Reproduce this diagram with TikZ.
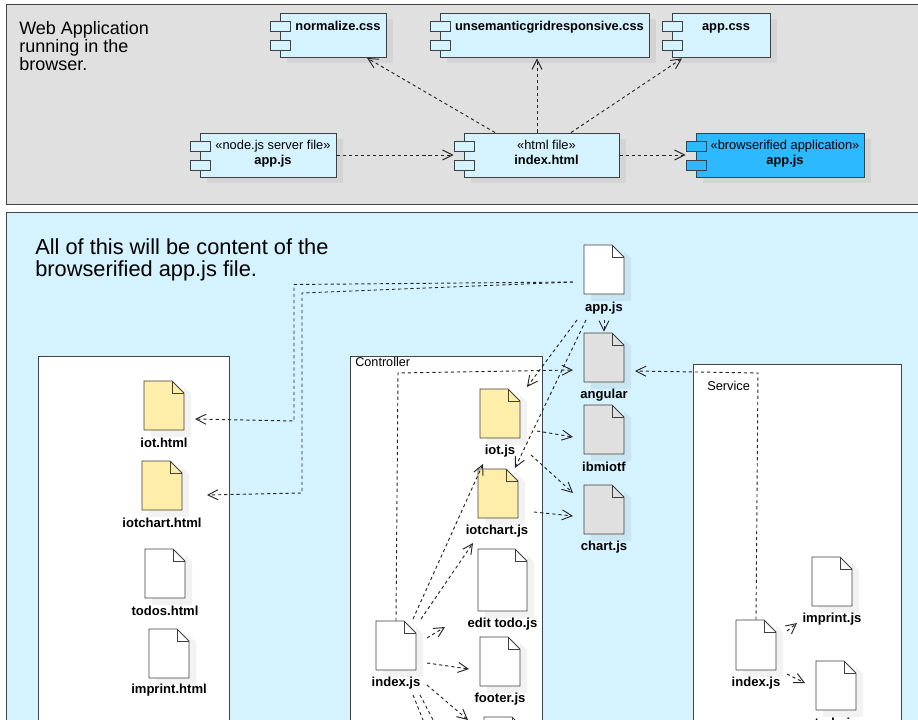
\documentclass[tikz,border=0pt]{standalone}
\usepackage{fontspec}
\setmainfont{Liberation Sans}
\usepackage{xcolor}
\usetikzlibrary{arrows.meta}
\definecolor{paleblue}{HTML}{D5F2FF}
\definecolor{brightblue}{HTML}{2DB9FF}
\definecolor{panegray}{HTML}{E0E0E0}
\definecolor{paleyellow}{HTML}{FFEEAA}
\definecolor{edgegray}{HTML}{444444}
\tikzset{
  frame/.style={draw=edgegray, line width=0.75pt},
  dropshade/.style={fill=black, fill opacity=0.05, draw=none},
  body/.style={draw=black!75, line width=0.7pt},
  deptail/.style={dash pattern=on 2.4pt off 2.2pt, draw=black!85, line width=0.7pt},
  dep/.style={deptail, -{Straight Barb[length=7.5pt,width=7.5pt]}},
  filelabel/.style={font=\bfseries\fontsize{9.8}{12}\selectfont, inner sep=0pt},
  boxtext/.style={font=\fontsize{9.65}{11.2}\selectfont, align=center, inner sep=0pt},
  slot/.style={minimum width=0pt, minimum height=0pt, inner sep=0pt, rectangle}
}
% component box: name, left, right, top, fill, text
\newcommand{\compbox}[6]{
  \fill[dropshade] (#2+7,#4+6) rectangle (#3+7,#4+50);
  \node[slot, body, fill=#5, minimum width={(#3-(#2))*0.75pt}, minimum height=33pt]
    (#1) at ({(#2+#3)/2},#4+22) {};
  \draw[body, fill=#5] (#2-10,#4+8) rectangle (#2+10,#4+18);
  \draw[body, fill=#5] (#2-10,#4+27) rectangle (#2+10,#4+37);
  \node[boxtext, anchor=north] (#1text) at ({(#2+10+#3)/2},#4+6.5) {#6};
}
% file icon: name, left, top, width, height, fill, label x, label y, label
\newcommand{\filenode}[9]{
  \fill[dropshade] (#2+7,#3+13) -- (#2+#4,#3+13) -- (#2+#4,#3+6) -- (#2+#4+7,#3+13)
    -- (#2+#4+7,#3+#5+7) -- (#2+7,#3+#5+7) -- cycle;
  \node[slot, minimum width={#4*0.75pt}, minimum height={#5*0.75pt}]
    (#1) at (#2+#4/2,#3+#5/2) {};
  \draw[body, fill=#6, line join=miter] (#2,#3) -- (#2+#4-12,#3) -- (#2+#4,#3+12)
    -- (#2+#4,#3+#5) -- (#2,#3+#5) -- cycle;
  \draw[body] (#2+#4-12,#3) -- (#2+#4-12,#3+12) -- (#2+#4,#3+12);
  \node[filelabel] (#1label) at (#7,#8+1.5) {#9};
}
\begin{document}
\begin{tikzpicture}[x=0.75pt,y=-0.75pt]
\path[use as bounding box, clip] (0,0) rectangle (918,720);
\fill[white] (0,0) rectangle (918,720);

% panes
\draw[frame, fill=panegray] (6,5) rectangle (930,205);
\draw[frame, fill=paleblue] (6,212.5) rectangle (930,740);
\draw[frame, fill=white] (38,357) rectangle (229,740);
\draw[frame, fill=white] (350,357) rectangle (542,740);
\draw[frame, fill=white] (693.5,364.5) rectangle (901,740);

\node[font=\fontsize{13.5}{13.5}\selectfont, align=left, anchor=north west, inner sep=0pt] (webnote)
  at (19,21) {Web Application\\running in the\\browser.};
\node[font=\fontsize{16.35}{16.5}\selectfont, align=left, anchor=north west, inner sep=0pt] (bundlenote)
  at (35,238) {All of this will be content of the\\browserified app.js file.};
\node[font=\fontsize{9.5}{10}\selectfont, anchor=west, inner sep=0pt] (ctrltitle) at (355,362) {Controller};
\node[font=\fontsize{9.6}{10}\selectfont, anchor=west, inner sep=0pt] (svctitle) at (707,386) {Service};

% browser
\compbox{normalize}{280}{386}{13}{paleblue}{\rule{0pt}{8.2pt}\textbf{normalize.css}}
\compbox{unsemantic}{440}{649}{13}{paleblue}{\rule{0pt}{8.2pt}\textbf{unsemanticgridresponsive.css}}
\compbox{appcss}{672}{770}{13}{paleblue}{\rule{0pt}{8.2pt}\textbf{app.css}}
\compbox{server}{200}{336}{133}{paleblue}{«node.js server file»\\\textbf{app.js}}
\compbox{indexhtml}{464}{619}{133}{paleblue}{«html file»\\\textbf{index.html}}
\compbox{bundle}{696}{864}{133}{brightblue}{«browserified application»\\\textbf{app.js}}

% files
\filenode{appjs}{584}{245}{40}{49}{white}{604}{307}{app.js}
\filenode{angular}{584}{333}{40}{49}{panegray}{604}{394}{angular}
\filenode{ibmiotf}{584}{405}{40}{49}{panegray}{604}{465.5}{ibmiotf}
\filenode{chartjs}{584}{485}{40}{49}{panegray}{604}{546}{chart.js}
\filenode{iotjs}{480}{389}{40}{49}{paleyellow}{500}{450}{iot.js}
\filenode{iotchartjs}{478}{469}{40}{49}{paleyellow}{497}{530}{iotchart.js}
\filenode{edittodo}{478}{549}{49}{62}{white}{502.5}{623}{edit todo.js}
\filenode{ctrlindex}{376}{621}{40}{49}{white}{396}{682}{index.js}
\filenode{footerjs}{480}{637}{40}{49}{white}{500}{698}{footer.js}
\node[slot, minimum width=30pt, minimum height=36.75pt] (lowerjs) at (504,741.5) {};
\draw[body, fill=white] (484,717) -- (512,717) -- (524,729) -- (524,760) -- (484,760) -- cycle;
\draw[body] (512,717) -- (512,729) -- (524,729);
\filenode{svcindex}{736}{620}{40}{50}{white}{756}{682}{index.js}
\filenode{imprintjs}{812}{557}{40}{49}{white}{832}{618}{imprint.js}
\filenode{todojs}{816}{661}{40}{49}{white}{836}{723}{todo.js}
\filenode{iothtml}{144}{381}{40}{49}{paleyellow}{164}{441}{iot.html}
\filenode{iotcharthtml}{142}{461}{40}{49}{paleyellow}{162}{521}{iotchart.html}
\filenode{todoshtml}{145}{549}{40}{49}{white}{165}{609}{todos.html}
\filenode{imprinthtml}{149}{629}{40}{49}{white}{169}{689}{imprint.html}

% connectors of the browser pane
\draw[dep] (server.east) -- ([shift={(-10,0)}]indexhtml.west);
\draw[dep] (indexhtml.east) -- ([shift={(-10,0)}]bundle.west);
\draw[dep] ([shift={(-46.5,0)}]indexhtml.north) -- ([shift={(34,0.5)}]normalize.south);
\draw[dep] ([shift={(-4.5,0)}]indexhtml.north) -- ([shift={(-7.5,1)}]unsemantic.south);
\draw[dep] ([shift={(29.5,0)}]indexhtml.north) -- ([shift={(-39,1)}]appcss.south);

% connectors of the bundle
\draw[dep] ([shift={(-31,12.5)}]appjs.center) -- (294,284.5) -- (294,421) -- ([shift={(31,13.5)}]iothtml.center);
\draw[dep] ([shift={(-31,12.5)}]appjs.center) -- (302,293) -- (302,493) -- ([shift={(45,9.5)}]iotcharthtml.center);
\draw[dep] ([shift={(-27,50.5)}]appjs.center) -- ([shift={(27,-26.5)}]iotjs.center);
\draw[dep] ([shift={(-18,50.5)}]appjs.center) -- ([shift={(17,-25.5)}]iotchartjs.center);
\draw[dep] ([shift={(0,50.5)}]appjs.center) -- ([shift={(0,-1)}]angular.north);
\draw[dep] (ctrlindex.north) -- (398,373) -- ([shift={(-31,12.5)}]angular.center);
\draw[dep] (svcindex.north) -- (758,373) -- ([shift={(31,13.5)}]angular.center);
\draw[dep] ([shift={(37,17.5)}]iotjs.center) -- ([shift={(-31,7.5)}]ibmiotf.center);
\draw[dep] ([shift={(31,41.5)}]iotjs.center) -- ([shift={(-31,-16.5)}]chartjs.center);
\draw[dep] ([shift={(36,18.5)}]iotchartjs.center) -- ([shift={(-31,6.5)}]chartjs.center);
\draw[dep] ([shift={(17,-26.5)}]ctrlindex.center) -- ([shift={(-15,-29.5)}]iotchartjs.center);
\draw[dep] ([shift={(25,-26.5)}]ctrlindex.center) -- ([shift={(-29.5,-37)}]edittodo.center);
\draw[dep] ([shift={(31,-7.5)}]ctrlindex.center) -- ([shift={(-55,-34.5)}]footerjs.center);
\draw[dep] ([shift={(31,17.5)}]ctrlindex.center) -- ([shift={(-31,7.5)}]footerjs.center);
\draw[dep] ([shift={(31,39.5)}]ctrlindex.center) -- ([shift={(-36,-21.5)}]lowerjs.center);
\coordinate (downa) at (429,735);
\coordinate (downb) at (441,735);
\draw[deptail] ([shift={(17,49.5)}]ctrlindex.center) -- (downa);
\draw[deptail] ([shift={(24,49.5)}]ctrlindex.center) -- (downb);
\draw[dep] ([shift={(31,-14)}]svcindex.center) -- ([shift={(-35,41.5)}]imprintjs.center);
\draw[dep] ([shift={(31,29)}]svcindex.center) -- ([shift={(-31,-2.5)}]todojs.center);
\end{tikzpicture}
\end{document}
